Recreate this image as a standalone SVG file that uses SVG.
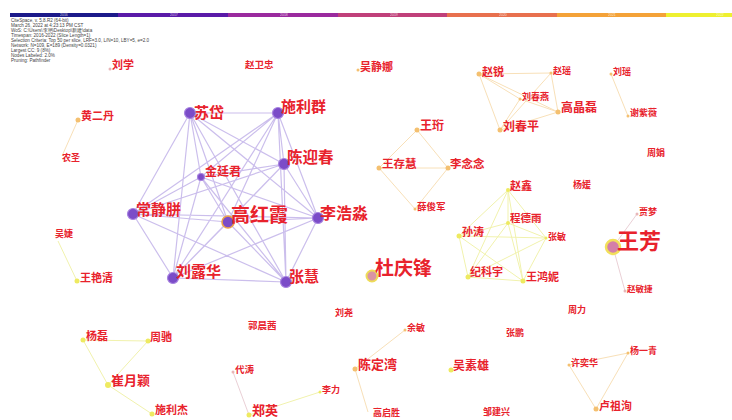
<svg xmlns="http://www.w3.org/2000/svg" width="732" height="420" viewBox="0 0 732 420">
<style>
.bg{fill:#ffffff}
.hdr{font-family:"Liberation Sans",Arial,sans-serif;font-size:4.6px;fill:#444}
.yr{font-family:"Liberation Sans",Arial,sans-serif;font-size:3.5px;fill:#ffffff;opacity:.7}
.lb{font-family:"Noto Sans CJK SC","Noto Sans",sans-serif;fill:#e8222c;font-weight:bold}
.ep{stroke:#b9a8e6;stroke-width:1.2;opacity:.75;fill:none}
.eo{stroke:#f8e0b8;stroke-width:1;fill:none}
.ey{stroke:#f1f2ad;stroke-width:1;fill:none}
.ek{stroke:#ead0d6;stroke-width:1;fill:none}
.np{fill:#7b4cc8;stroke:#a884e0;stroke-width:1.2}
.no{fill:#f4c070}
.ny{fill:#eeea60}
.nk{fill:#e8b6b8}
</style>
<rect class="bg" x="0" y="0" width="732" height="420"/>
<g id="legend">
<rect x="10" y="13" width="108" height="4" fill="#1c1a8a"/>
<rect x="118" y="13" width="110" height="4" fill="#5a1aa8"/>
<rect x="228" y="13" width="110" height="4" fill="#9a2a9e"/>
<rect x="338" y="13" width="109" height="4" fill="#c0407a"/>
<rect x="447" y="13" width="110" height="4" fill="#e8704e"/>
<rect x="557" y="13" width="109" height="4" fill="#f4a238"/>
<rect x="666" y="13" width="66" height="4" fill="#eef030"/>
<text class="yr" x="60" y="16.3">2016</text>
<text class="yr" x="170" y="16.3">2017</text>
<text class="yr" x="280" y="16.3">2018</text>
<text class="yr" x="390" y="16.3">2019</text>
<text class="yr" x="499" y="16.3">2020</text>
<text class="yr" x="608" y="16.3">2021</text>
<text class="yr" x="716" y="16.3">2022</text>
<text class="hdr" x="11" y="22">CiteSpace, v. 5.8.R2 (64-bit)</text>
<text class="hdr" x="11" y="27">March 26, 2022 at 4:23:13 PM CST</text>
<text class="hdr" x="11" y="32">WoS: C:\Users\李艳\Desktop\新建\data</text>
<text class="hdr" x="11" y="37">Timespan: 2016-2022 (Slice Length=1)</text>
<text class="hdr" x="11" y="42">Selection Criteria: Top 50 per slice, LRF=3.0, L/N=10, LBY=5, e=2.0</text>
<text class="hdr" x="11" y="47">Network: N=109, E=189 (Density=0.0321)</text>
<text class="hdr" x="11" y="52">Largest CC: 9 (8%)</text>
<text class="hdr" x="11" y="57">Nodes Labeled: 2.0%</text>
<text class="hdr" x="11" y="62">Pruning: Pathfinder</text>
</g>
<g id="connectors">
<path class="ep" d="M190,113L278,113 M190,113L284,164 M190,113L201,177 M190,113L228,222 M190,113L318,218 M190,113L133,214 M190,113L173,278 M190,113L286,282
M278,113L284,164 M278,113L201,177 M278,113L228,222 M278,113L318,218 M278,113L133,214 M278,113L173,278 M278,113L286,282
M284,164L201,177 M284,164L228,222 M284,164L318,218 M284,164L133,214 M284,164L173,278 M284,164L286,282
M201,177L228,222 M201,177L318,218 M201,177L133,214 M201,177L173,278 M201,177L286,282
M228,222L318,218 M228,222L133,214 M228,222L173,278 M228,222L286,282
M318,218L133,214 M318,218L173,278 M318,218L286,282
M133,214L173,278 M133,214L286,282 M173,278L286,282"/>
<path class="eo" d="M479,74L551,73 M479,74L520,99 M479,74L500,130 M479,74L558,112 M551,73L500,130 M551,73L558,112 M520,99L558,112 M500,130L558,112 M520,99L500,130"/>
<path class="eo" d="M611,74L628,116"/>
<path class="eo" d="M417,130L379,168 M417,130L448,168 M379,168L448,168 M379,168L415,209 M448,168L415,209"/>
<path class="eo" d="M78,120L62,156"/>
<path class="ey" d="M58,241L77,281"/>
<path class="ey" d="M83,340L148,341 M83,340L108,385 M148,341L108,385 M108,385L152,414"/>
<path class="ey" d="M249,415L320,392"/>
<path class="ek" d="M233,372L249,415"/>
<path class="eo" d="M355,369L405,330 M355,369L368,412"/>
<path class="eo" d="M569,365L628,353 M569,365L596,409 M628,353L596,409"/>
<path class="ey" d="M508,190L459,236 M508,190L508,223 M508,190L468,277 M508,190L523,281 M508,190L546,238 M508,223L459,236 M508,223L468,277 M508,223L523,281 M508,223L546,238 M459,236L468,277 M459,236L523,281 M459,236L546,238 M468,277L546,238 M523,281L546,238 M468,277L523,281"/>
<path class="ek" d="M613,247L637,214 M613,247L625,291"/>
</g>
<g id="n-sudai"><circle class="np" cx="190" cy="113" r="5.5"/><text class="lb" x="194" y="118" font-size="15">苏岱</text></g>
<g id="n-shiliqun"><circle class="np" cx="278" cy="113" r="5.5"/><text class="lb" x="281" y="112" font-size="15">施利群</text></g>
<g id="n-chenyingchun"><circle class="np" cx="284" cy="164" r="5.5"/><text class="lb" x="287" y="163" font-size="15.5">陈迎春</text></g>
<g id="n-jintingjun"><circle class="np" cx="201" cy="177" r="3.5"/><text class="lb" x="205" y="176" font-size="12">金廷君</text></g>
<g id="n-gaohongxia"><circle cx="228" cy="222" r="6" fill="#7b4cc8" stroke="#eba24a" stroke-width="1.6"/><text class="lb" x="231" y="222" font-size="19">高红霞</text></g>
<g id="n-lihaomiao"><circle class="np" cx="318" cy="218" r="5.5"/><text class="lb" x="320" y="219" font-size="16">李浩淼</text></g>
<g id="n-changjingpian"><circle class="np" cx="133" cy="214" r="5.5"/><text class="lb" x="136" y="215" font-size="15">常静胼</text></g>
<g id="n-liuluhua"><circle class="np" cx="173" cy="278" r="5.5"/><text class="lb" x="176" y="277" font-size="15">刘露华</text></g>
<g id="n-zhanghui"><circle class="np" cx="286" cy="282" r="5.5"/><text class="lb" x="289" y="282" font-size="15">张慧</text></g>

<g id="n-zhaorui"><circle class="no" cx="479" cy="74" r="2.5"/><text class="lb" x="482" y="76" font-size="11">赵锐</text></g>
<g id="n-zhaoyao"><circle class="no" cx="551" cy="73" r="1.5"/><text class="lb" x="553" y="74" font-size="9">赵瑶</text></g>
<g id="n-liuchunyan"><circle class="no" cx="520" cy="99" r="1.5"/><text class="lb" x="522" y="100" font-size="9">刘春燕</text></g>
<g id="n-gaojinglei"><circle class="no" cx="558" cy="112" r="2.5"/><text class="lb" x="561" y="112" font-size="12">高晶磊</text></g>
<g id="n-liuchunping"><circle class="no" cx="500" cy="130" r="2.5"/><text class="lb" x="503" y="131" font-size="12">刘春平</text></g>
<g id="n-liuyao"><circle class="no" cx="611" cy="74" r="1.5"/><text class="lb" x="613" y="75" font-size="9">刘瑶</text></g>
<g id="n-xieziwei"><circle class="no" cx="628" cy="116" r="1.5"/><text class="lb" x="630" y="116" font-size="9">谢紫薇</text></g>
<g id="n-zhoujuan"><text class="lb" x="647" y="156" font-size="9">周娟</text></g>
<g id="n-yangyuan"><text class="lb" x="573" y="188" font-size="9">杨媛</text></g>
<g id="n-jiameng"><circle class="nk" cx="637" cy="214" r="1.5"/><text class="lb" x="639" y="215" font-size="9">贾梦</text></g>
<g id="n-wangfang"><circle cx="613" cy="247" r="7" fill="#d47fa8" stroke="#f2e05a" stroke-width="2.5"/><text class="lb" x="617" y="249" font-size="22">王芳</text></g>
<g id="n-zhaominjie"><circle class="nk" cx="625" cy="291" r="1.5"/><text class="lb" x="627" y="292" font-size="8.5">赵敏捷</text></g>
<g id="n-zhangmin"><circle class="ny" cx="546" cy="238" r="1.5"/><text class="lb" x="548" y="240" font-size="9">张敏</text></g>
<g id="n-zhouli"><text class="lb" x="568" y="313" font-size="9">周力</text></g>

<g id="n-wujingna"><circle class="no" cx="358" cy="70" r="1.5"/><text class="lb" x="360" y="71" font-size="11">吴静娜</text></g>
<g id="n-wangheng"><circle class="no" cx="417" cy="130" r="2.5"/><text class="lb" x="420" y="129.5" font-size="12">王珩</text></g>
<g id="n-wangcunhui"><circle class="no" cx="379" cy="168" r="2.5"/><text class="lb" x="382" y="168" font-size="11.5">王存慧</text></g>
<g id="n-linianian"><circle class="no" cx="448" cy="168" r="2.5"/><text class="lb" x="450" y="168" font-size="11.5">李念念</text></g>
<g id="n-xuejunjun"><circle class="no" cx="415" cy="209" r="1.5"/><text class="lb" x="417" y="210" font-size="9.5">薛俊军</text></g>

<g id="n-zhaoxin"><circle class="ny" cx="508" cy="190" r="2"/><text class="lb" x="510" y="190" font-size="11">赵鑫</text></g>
<g id="n-chengdeyu"><circle class="ny" cx="508" cy="223" r="2"/><text class="lb" x="510" y="222" font-size="10.5">程德雨</text></g>
<g id="n-suntao"><circle class="ny" cx="459" cy="236" r="2.5"/><text class="lb" x="462" y="236" font-size="11">孙涛</text></g>
<g id="n-jikeyu"><circle class="ny" cx="468" cy="277" r="2.5"/><text class="lb" x="470" y="276" font-size="11">纪科宇</text></g>
<g id="n-wanghongni"><circle class="ny" cx="523" cy="281" r="2.5"/><text class="lb" x="526" y="281" font-size="11">王鸿妮</text></g>
<g id="n-duqingfeng"><circle cx="372" cy="276" r="5.5" fill="#d994a4" stroke="#eedc58" stroke-width="2"/><text class="lb" x="375" y="275" font-size="19">杜庆锋</text></g>

<g id="n-liuxue"><circle class="nk" cx="110" cy="69" r="1.5"/><text class="lb" x="112" y="69" font-size="11">刘学</text></g>
<g id="n-zhaoweizhong"><text class="lb" x="245" y="68" font-size="9.5">赵卫忠</text></g>
<g id="n-huangerdan"><circle class="no" cx="78" cy="120" r="2.5"/><text class="lb" x="81" y="120" font-size="11">黄二丹</text></g>
<g id="n-nongsheng"><text class="lb" x="62" y="161" font-size="9">农圣</text></g>
<g id="n-wujie"><text class="lb" x="55" y="237" font-size="9">吴婕</text></g>
<g id="n-wangyanqing"><circle class="ny" cx="77" cy="281" r="2.5"/><text class="lb" x="80" y="282" font-size="11">王艳清</text></g>

<g id="n-yanglei"><circle class="ny" cx="83" cy="340" r="2.5"/><text class="lb" x="86" y="340" font-size="11">杨磊</text></g>
<g id="n-zhouchi"><circle class="ny" cx="148" cy="341" r="2.5"/><text class="lb" x="150" y="341" font-size="11">周驰</text></g>
<g id="n-cuiyueying"><circle class="ny" cx="108" cy="385" r="3"/><text class="lb" x="111" y="385" font-size="13">崔月颖</text></g>
<g id="n-shilijie"><circle class="ny" cx="152" cy="414" r="2.5"/><text class="lb" x="155" y="414" font-size="11">施利杰</text></g>
<g id="n-guochenxi"><text class="lb" x="248" y="329" font-size="9.5">郭晨茜</text></g>
<g id="n-liuyao2"><text class="lb" x="335" y="316" font-size="9">刘尧</text></g>
<g id="n-daitao"><circle class="nk" cx="233" cy="372" r="1.5"/><text class="lb" x="235" y="373" font-size="9.5">代涛</text></g>
<g id="n-zhengying"><circle class="ny" cx="249" cy="415" r="2.5"/><text class="lb" x="252" y="415" font-size="13">郑英</text></g>
<g id="n-lili"><circle class="ny" cx="320" cy="392" r="1.5"/><text class="lb" x="322" y="393" font-size="9">李力</text></g>
<g id="n-chendingwan"><circle class="no" cx="355" cy="369" r="2.5"/><text class="lb" x="358" y="369" font-size="13">陈定湾</text></g>
<g id="n-yumin"><circle class="no" cx="405" cy="330" r="1.5"/><text class="lb" x="407" y="331" font-size="9">余敏</text></g>
<g id="n-gaoqisheng"><text class="lb" x="373" y="416" font-size="9">高启胜</text></g>
<g id="n-wusuxiong"><circle class="ny" cx="451" cy="370" r="2.5"/><text class="lb" x="453" y="370" font-size="12">吴素雄</text></g>
<g id="n-zhangpeng"><text class="lb" x="506" y="336" font-size="9">张鹏</text></g>
<g id="n-zoujianxing"><text class="lb" x="483" y="415" font-size="9">邹建兴</text></g>
<g id="n-xuyihua"><circle class="no" cx="569" cy="365" r="1.5"/><text class="lb" x="571" y="366" font-size="9">许奕华</text></g>
<g id="n-yangyiqing"><circle class="no" cx="628" cy="353" r="1.5"/><text class="lb" x="630" y="354" font-size="9">杨一青</text></g>
<g id="n-luzuxun"><circle class="no" cx="596" cy="409" r="2.5"/><text class="lb" x="599" y="410" font-size="11">卢祖洵</text></g>
</svg>
